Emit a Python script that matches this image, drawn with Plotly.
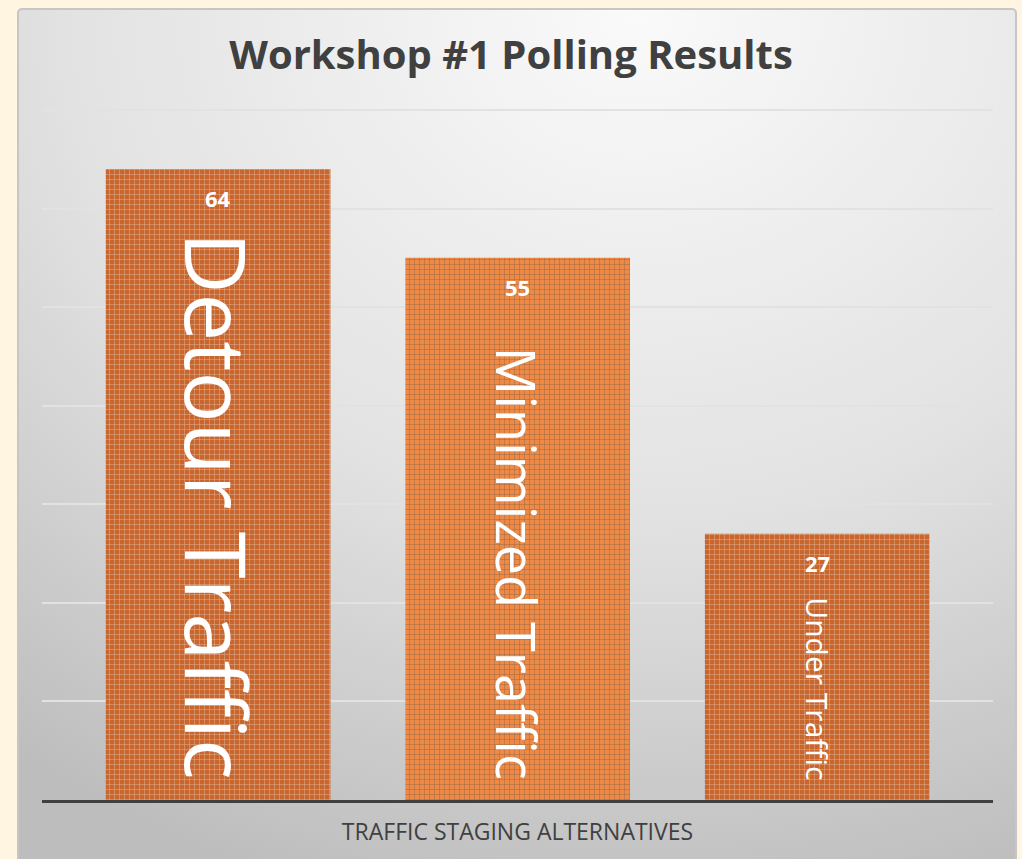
import base64
import plotly.graph_objects as go

# ---- data ----
categories = ["Detour Traffic", "Minimized Traffic", "Under Traffic"]
votes = [64, 55, 27]
label_sizes = [85, 54, 30]
bar_colors = ["#C8662E", "#EE8A45", "#C8662E"]
pattern_colors = ["#EDB08A", "#FBC29A", "#EDB08A"]
title_text = "Workshop #1 Polling Results"
x_title = "TRAFFIC STAGING ALTERNATIVES"

W, H = 1022, 859
L, R, T, B = 42, 29, 107, 59
pw, ph = W - L - R, H - T - B

# background panel (gradient) as an inline SVG image
panel_x0, panel_x1, panel_y0, panel_y1 = 17, 1017, 8, 880
sw, sh = panel_x1 - panel_x0, panel_y1 - panel_y0
svg = f'''<svg xmlns="http://www.w3.org/2000/svg" width="{sw}" height="{sh}" viewBox="0 0 {sw} {sh}" preserveAspectRatio="none">
<defs><radialGradient id="g" cx="0.62" cy="0.0" r="1.05" gradientUnits="objectBoundingBox">
<stop offset="0" stop-color="#FAFAFA"/><stop offset="0.55" stop-color="#E2E2E2"/><stop offset="1" stop-color="#BDBDBD"/></radialGradient></defs>
<rect x="1" y="1" width="{sw-2}" height="{sh+10}" rx="4" fill="url(#g)" stroke="#C6C6C6" stroke-width="2"/>
</svg>'''
src = "data:image/svg+xml;base64," + base64.b64encode(svg.encode()).decode()

fig = go.Figure()
fig.add_trace(go.Bar(
    x=categories, y=votes,
    marker=dict(color=bar_colors, line=dict(width=0),
                pattern=dict(shape="+", fillmode="overlay", fgcolor=pattern_colors,
                             size=5, solidity=0.2, fgopacity=0.45)),
    width=0.75, hoverinfo="skip",
))

annotations = []
for c, v, s in zip(categories, votes, label_sizes):
    annotations.append(dict(x=c, y=v, xref="x", yref="y", text=f"<b>{v}</b>", showarrow=False,
                            yanchor="top", yshift=-12,
                            font=dict(family="Open Sans", size=22, color="white")))
    annotations.append(dict(x=c, y=0, xref="x", yref="y", text=c, showarrow=False, textangle=90,
                            yanchor="bottom", yshift=18,
                            font=dict(family="Open Sans", size=s, color="white")))

fig.update_layout(
    width=W, height=H,
    margin=dict(l=L, r=R, t=T, b=B, pad=0),
    paper_bgcolor="#FFF5E0",
    plot_bgcolor="rgba(0,0,0,0)",
    showlegend=False,
    title=dict(text=f"<b>{title_text}</b>", x=0.5, xanchor="center", y=1 - 55 / H, yanchor="middle",
               font=dict(family="Open Sans", size=40, color="#404040")),
    xaxis=dict(range=[-0.588, 2.587], showticklabels=False, ticks="", showgrid=False,
               showline=True, linecolor="#404040", linewidth=3, zeroline=False,
               title=dict(text=x_title, standoff=22, font=dict(family="Open Sans", size=23, color="#404040"))),
    yaxis=dict(range=[0, 70.3], dtick=10, showticklabels=False, ticks="", showgrid=True,
               gridcolor="#E2E2E2", gridwidth=2, zeroline=False, showline=False),
    images=[dict(source=src, xref="paper", yref="paper",
                 x=(panel_x0 - L) / pw, y=(H - B - panel_y0) / ph,
                 sizex=sw / pw, sizey=sh / ph, xanchor="left", yanchor="top",
                 sizing="stretch", layer="below")],
    annotations=annotations,
)

fig.write_html("out.html", config={"displayModeBar": False},
               post_script="document.body.style.margin='0';document.body.style.background='#FFF5E0';")
